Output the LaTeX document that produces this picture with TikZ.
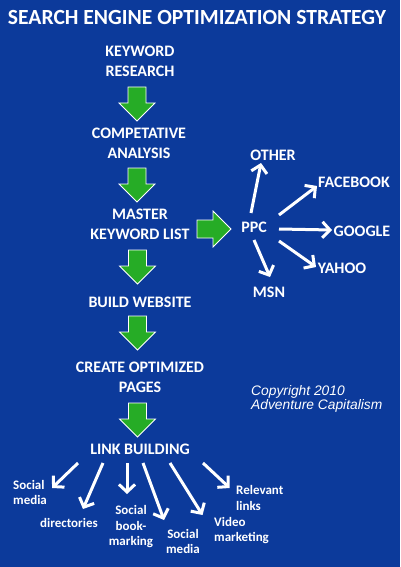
\documentclass[tikz,border=0pt]{standalone}
\usepackage{fontspec}
\setmainfont{Carlito}
\newfontfamily\copyfont{Liberation Sans}
\usetikzlibrary{arrows.meta,calc}
\definecolor{bgblue}{RGB}{12,58,155}
\definecolor{agreen}{RGB}{38,172,38}
\begin{document}
\begin{tikzpicture}[x=1pt,y=1pt,
  lbl/.style={text=white,font=\fontsize{16}{20}\selectfont\bfseries,align=center,inner sep=0pt},
  ttl/.style={text=white,font=\fontsize{21.6}{24}\selectfont\bfseries,inner sep=0pt},
  sml/.style={text=white,font=\fontsize{13}{15.5}\selectfont\bfseries,inner sep=0pt},
  cpy/.style={text=white,font=\fontsize{13.8}{14.5}\selectfont\copyfont\itshape,align=left,inner sep=0pt},
  warr/.style={white,line width=3pt,-{Straight Barb[length=7.5pt,width=16pt]}},
  garrow/.pic={\fill[agreen,draw=white,line width=0.8pt,line join=miter]
    (-9,0)--(9,0)--(9,-16)--(18,-16)--(0,-34)--(-18,-16)--(-9,-16)--cycle;}
]
\fill[bgblue] (0,0) rectangle (400,-567);
\useasboundingbox (0,0) rectangle (400,-567);

\node[ttl] (title) at (197,-17) {SEARCH ENGINE OPTIMIZATION STRATEGY};

\node[lbl] (kw) at (140,-61) {KEYWORD\\RESEARCH};
\node[lbl] (comp) at (139,-143) {COMPETATIVE\\ANALYSIS};
\node[lbl] (master) at (140,-224) {MASTER\\KEYWORD LIST};
\node[lbl] (build) at (140,-302) {BUILD WEBSITE};
\node[lbl] (create) at (140,-377) {CREATE OPTIMIZED\\PAGES};
\node[lbl] (link) at (140,-449) {LINK BUILDING};

\pic at (137,-87) {garrow};
\pic at (137,-168) {garrow};
\pic at (137.5,-250) {garrow};
\pic at (137.5,-316) {garrow};
\pic at (137.5,-403) {garrow};
\pic[rotate=90] at (197,-229) {garrow};

\node[lbl] (ppc) at (254,-227) {PPC};
\node[lbl] (other) at (273,-155) {OTHER};
\node[lbl] (facebook) at (354,-182) {FACEBOOK};
\node[lbl] (google) at (362,-231) {GOOGLE};
\node[lbl] (yahoo) at (342,-268) {YAHOO};
\node[lbl] (msn) at (269,-292) {MSN};

\draw[warr] ($(ppc)+(-3,14)$) -- ($(other)+(-12,-8)$);
\draw[warr] ($(ppc)+(25,12)$) -- ($(facebook)+(-37,-4)$);
\draw[warr] ($(ppc)+(25,-2)$) -- ($(google)+(-30,1)$);
\draw[warr] ($(ppc)+(25,-14)$) -- ($(yahoo)+(-26,1)$);
\draw[warr] ($(ppc)+(0,-13)$) -- ($(msn)+(1,15)$);

\node[sml,align=left,anchor=west] (soc1) at (13,-492.5) {Social\\media};
\node[sml] (dir) at (69,-523) {directories};
\node[sml,align=center] (book) at (131,-527) {Social\\book-\\marking};
\node[sml,align=center] (soc2) at (183,-541.5) {Social\\media};
\node[sml,align=left,anchor=west] (video) at (214,-530.5) {Video\\marketing};
\node[sml,align=left,anchor=west] (rel) at (236,-498) {Relevant\\links};

\draw[warr] ($(link)+(-62,-14)$) -- ($(soc1.center)+(22,4.5)$);
\draw[warr] ($(link)+(-37,-14)$) -- ($(dir)+(14,14)$);
\draw[warr] ($(link)+(-13,-14)$) -- ($(book)+(-4,33)$);
\draw[warr] ($(link)+(3,-14)$) -- ($(soc2)+(-19,21.5)$);
\draw[warr] ($(link)+(30,-14)$) -- ($(video.center)+(-39,15.5)$);
\draw[warr] ($(link)+(63,-14)$) -- ($(rel.center)+(-30,10)$);

\node[cpy,anchor=west] (copy) at (251,-399) {Copyright 2010\\Adventure Capitalism};
\end{tikzpicture}
\end{document}
